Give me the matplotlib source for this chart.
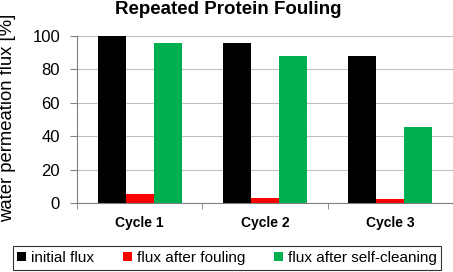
import matplotlib
matplotlib.use("Agg")
import matplotlib.pyplot as plt
import numpy as np

plt.rcParams['font.family'] = ['Liberation Sans', 'DejaVu Sans']

cycles = ["Cycle 1", "Cycle 2", "Cycle 3"]
initial_flux = [100, 96, 88]
flux_after_fouling = [5.5, 3.0, 2.5]
flux_after_cleaning = [96, 88, 45.5]
series_names = ["initial flux", "flux after fouling", "flux after self-cleaning"]
colors = ["#000000", "#ff0000", "#00b050"]

fig = plt.figure(figsize=(4.53, 2.72), dpi=100)
ax = fig.add_axes([77/453, 1-203/272, 376/453, 167/272])

x = np.arange(len(cycles))
w = 0.224
for i, (vals, name, c) in enumerate(zip([initial_flux, flux_after_fouling, flux_after_cleaning], series_names, colors)):
    ax.bar(x + (i-1)*w, vals, w, color=c, label=name, zorder=3)

ax.set_xlim(-0.5, 2.5)
ax.set_ylim(0, 100)
ax.set_yticks([0, 20, 40, 60, 80, 100])
ax.yaxis.grid(True, color='#c0c0c0', linewidth=0.8, zorder=0)
ax.set_xticks(x)
ax.set_xticklabels(cycles, fontsize=10, fontweight='bold')
ax.set_xticks([-0.5, 0.5, 1.5, 2.5], minor=True)
ax.tick_params(axis='x', which='major', length=0, pad=9)
ax.tick_params(axis='x', which='minor', length=4, color='#808080', direction='out')
ax.tick_params(axis='y', length=5, color='#808080', labelsize=12, pad=7.2)
for s in ['top', 'right']:
    ax.spines[s].set_visible(False)
for s in ['left', 'bottom']:
    ax.spines[s].set_color('#808080')
fig.text(8/453, 1-117.5/272, "water permeation flux [%]", rotation=90, ha='center', va='center',
         fontsize=13.3)
fig.text(228/453, 1-10/272, "Repeated Protein Fouling", ha='center', va='center',
         fontsize=13.5, fontweight='bold')

leg = fig.legend(loc='center', bbox_to_anchor=(227/453, 1-258/272), ncol=3,
                 fontsize=11, frameon=True, fancybox=False, edgecolor='black',
                 handlelength=0.6, handleheight=0.6, handletextpad=0.3, columnspacing=1.9,
                 borderpad=0.3)
leg.get_frame().set_linewidth(0.8)

fig.savefig("out.png", dpi=100)
